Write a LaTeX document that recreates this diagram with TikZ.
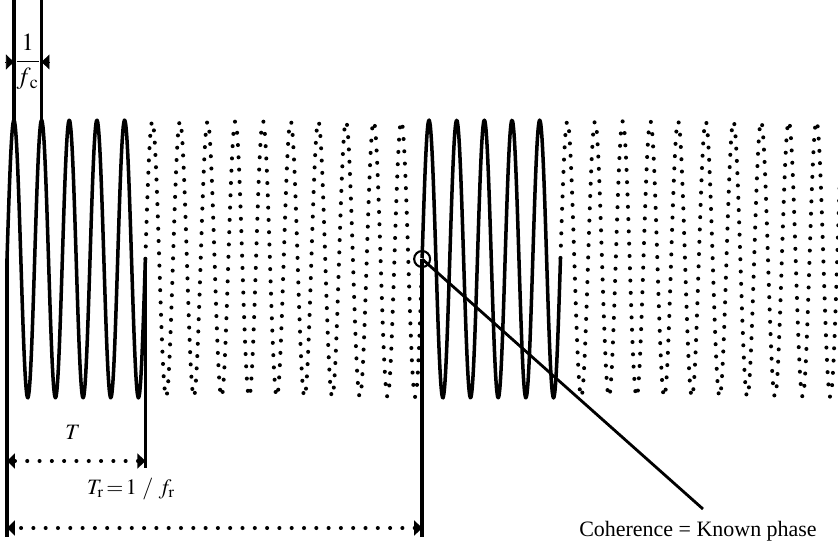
\documentclass[tikz,border=0pt]{standalone}
\usepackage{mathptmx}
\usepackage{fontspec}
\setmainfont{Liberation Serif}
\usetikzlibrary{arrows.meta,positioning}

\begin{document}
\begin{tikzpicture}[
    every node/.style={font=\fontsize{12.5}{15}\selectfont},
    wave/.style={line width=2pt, line join=round},
    dotwave/.style={line width=2.3pt, line cap=round, dash pattern=on 0pt off 7pt},
    marker/.style={line width=2pt},
    tip/.style={-{Triangle[length=4.5pt,width=8.5pt]}},
    span/.style={line width=2.3pt, line cap=round, dash pattern=on 0pt off 7pt,
        {Triangle[length=4.5pt,width=8.5pt]}-{Triangle[length=4.5pt,width=8.5pt]}},
]
\useasboundingbox (0,-5.78) rectangle (16.76,5.18);

% Carrier bursts (solid) and the gaps between them (dotted)
\draw[wave] plot[domain=0.14:2.9075, samples=120, smooth]
    (\x,{2.78*sin(360*(\x-0.14)/0.5535)});
\draw[dotwave] plot[domain=2.9075:8.4425, samples=240, smooth]
    (\x,{2.76*sin(360*(\x-0.14)/0.5535)});
\draw[wave] plot[domain=8.4425:11.21, samples=120, smooth]
    (\x,{2.78*sin(360*(\x-0.14)/0.5535)});
\draw[dotwave] plot[domain=11.21:16.9, samples=250, smooth]
    (\x,{2.76*sin(360*(\x-0.14)/0.5535)});

% Marker points
\coordinate (start) at (0.14,0);
\coordinate (burstend) at (2.9075,0);
\coordinate (next) at (8.4425,0);
\coordinate (peakA) at (0.278,2.78);
\coordinate (peakB) at (0.8315,2.78);
\coordinate (topA) at (0.278,5.18);
\coordinate (topB) at (0.8315,5.18);
\coordinate (startlow) at (0.14,-5.56);
\coordinate (burstlow) at (2.9075,-4.18);
\coordinate (nextlow) at (8.4425,-5.56);

% Marker lines
\draw[marker] (topA) -- (peakA);
\draw[marker] (topB) -- (peakB);
\draw[marker] (start) -- (startlow);
\draw[marker] (burstend) -- (burstlow);
\draw[marker] (next) -- (nextlow);

% Carrier period
\coordinate (fcL) at (0.1,3.94);
\coordinate (fcLtip) at (0.278,3.94);
\coordinate (fcR) at (0.98,3.94);
\coordinate (fcRtip) at (0.8315,3.94);
\draw[tip] (fcL) -- (fcLtip);
\draw[tip] (fcR) -- (fcRtip);
\node[font=\fontsize{14}{17}\selectfont] (fclabel) at (0.555,3.94)
    {$\displaystyle\frac{1}{f_{\,\mathrm{c}}}$};

% Burst length and repetition period
\coordinate (tL) at (0.14,-4.04);
\coordinate (tR) at (2.9075,-4.04);
\coordinate (trL) at (0.14,-5.38);
\coordinate (trR) at (8.4425,-5.38);
\draw[span] (tR) -- (tL);
\draw[span] (trR) -- (trL);
\node (tlabel) at (1.46,-3.46) {$T$};
\node (trlabel) at (2.62,-4.6) {$T_{\mathrm{r}}\!=\!1\ /\ f_{\mathrm{r}}$};

% Coherence annotation
\node[circle, draw, line width=1.2pt, minimum size=0.32cm, inner sep=0pt] (phase) at (next) {};
\coordinate (cohend) at (14.06,-5.0);
\draw[line width=1.6pt] (phase.center) -- (cohend);
\node (coh) at (13.96,-5.44) {Coherence = Known phase};

\end{tikzpicture}
\end{document}
